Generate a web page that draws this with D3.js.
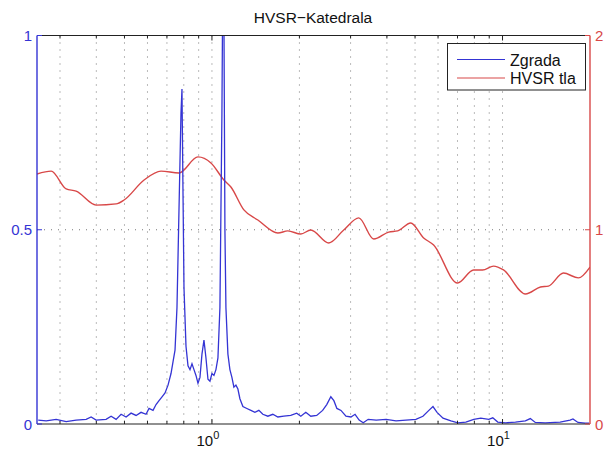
<!DOCTYPE html>
<html><head><meta charset="utf-8">
<script src="https://cdn.jsdelivr.net/npm/d3@7"></script>
<style>body{margin:0;background:#fff}svg{display:block}text{font-family:"Liberation Sans",Arial,sans-serif}</style>
</head><body><svg id="c" width="605" height="452"></svg>
<script>
const title = "HVSR\u2212Katedrala";
const seriesNames = ["Zgrada", "HVSR tla"];
const xDomain = [0.25, 20];
const leftTicks = [0, 0.5, 1];
const leftTickLabels = ["0", "0.5", "1"];
const rightTicks = [0, 1, 2];
const rightTickLabels = ["0", "1", "2"];
const xMajorTicks = [1, 10];
const xMajorExponents = ["0", "1"];

// Zgrada (left axis)
const zFreq = [0.2524,0.2689,0.2910,0.3150,0.3409,0.3690,0.3839,0.3994,0.4322,0.4497,0.4679,0.4868,0.5065,0.5268,0.5481,0.5702,0.5932,0.6074,0.6270,0.6421,0.6575,0.6733,0.6895,0.7061,0.7230,0.7345,0.7463,0.7580,0.7701,0.7824,0.7886,0.7949,0.8013,0.8141,0.8271,0.8404,0.8537,0.8673,0.8811,0.8952,0.9094,0.9240,0.9387,0.9537,0.9689,0.9843,1.0,1.0160,1.0321,1.0486,1.0653,1.0823,1.0909,1.0996,1.1083,1.1171,1.1349,1.1530,1.1714,1.1901,1.2091,1.2284,1.2480,1.2779,1.3186,1.3614,1.4054,1.4503,1.4966,1.5571,1.6199,1.6859,1.7671,1.8675,1.9573,2.0223,2.1036,2.1887,2.2938,2.4041,2.4834,2.5652,2.6278,2.6913,2.7800,2.8918,3.0085,3.1078,3.2104,3.3163,3.4498,3.6753,3.9758,4.3010,4.6527,5.0332,5.3218,5.5796,5.7626,5.9517,6.2396,6.6444,7.0224,7.4778,7.9627,8.4163,8.9626,9.2578,9.6290,10.2404,11.0778,11.9838,12.4641,12.9638,14.0244,15.7845,17.0755,17.4743,18.1833,19.2348,19.8545];
const zVal = [0.010,0.008,0.012,0.006,0.010,0.012,0.018,0.010,0.012,0.020,0.012,0.025,0.018,0.028,0.022,0.030,0.025,0.040,0.035,0.050,0.060,0.070,0.080,0.100,0.130,0.160,0.190,0.300,0.550,0.800,0.862,0.600,0.350,0.200,0.150,0.140,0.155,0.140,0.125,0.105,0.120,0.180,0.216,0.170,0.115,0.110,0.130,0.125,0.140,0.170,0.300,0.800,1.200,1.050,0.500,0.300,0.180,0.140,0.120,0.095,0.100,0.090,0.065,0.045,0.040,0.035,0.030,0.035,0.025,0.020,0.025,0.018,0.020,0.022,0.028,0.020,0.030,0.020,0.022,0.035,0.050,0.070,0.060,0.040,0.035,0.020,0.018,0.025,0.010,0.003,0.012,0.010,0.012,0.008,0.010,0.012,0.020,0.035,0.045,0.030,0.015,0.008,0.003,0.005,0.012,0.015,0.012,0.016,0.005,0.003,0.005,0.008,0.014,0.004,0.003,0.005,0.010,0.013,0.004,0.002,0.002];

// HVSR tla (right axis)
const hFreq = [0.25,0.2797,0.3150,0.3408,0.3994,0.4679,0.4984,0.5840,0.6679,0.7700,0.8951,0.9921,1.0996,1.1621,1.2882,1.4390,1.6859,1.8245,2.0223,2.1887,2.5241,2.8418,3.2007,3.6041,4.0576,4.3574,4.8296,5.3529,5.7937,7.0029,7.9488,8.5365,9.3133,10.08,11.995,13.508,14.390,16.202,18.245,20];
const hVal = [1.287,1.302,1.210,1.199,1.127,1.133,1.153,1.256,1.302,1.292,1.375,1.344,1.256,1.220,1.102,1.050,0.983,0.994,0.978,0.999,0.932,0.999,1.061,0.952,0.988,0.994,1.035,0.958,0.921,0.726,0.793,0.793,0.813,0.793,0.669,0.705,0.710,0.777,0.752,0.808];

const blue = "#3434d4", red = "#d84848";
const L = 37, R = 590, T = 35.5, B = 424;
const svg = d3.select("#c");
const x = d3.scaleLog().domain(xDomain).range([L, R]);
const yL = d3.scaleLinear().domain([0, 1]).range([B, T]);
const yR = d3.scaleLinear().domain([0, 2]).range([B, T]);

svg.append("defs").append("clipPath").attr("id","clip").append("rect")
  .attr("x", L).attr("y", T).attr("width", R - L).attr("height", B - T);

// grid
const minor = [];
for (let d = 0.1; d <= 10; d *= 10) for (let k = 1; k <= 9; k++) { const v = +(k*d).toPrecision(3); if (v > xDomain[0] && v < xDomain[1]) minor.push(v); }
const g = svg.append("g");
g.selectAll("line.v").data(minor).join("line")
  .attr("x1", d => x(d)).attr("x2", d => x(d)).attr("y1", T).attr("y2", B)
  .attr("stroke", "#777").attr("stroke-width", 1).attr("stroke-dasharray", "1,6");
g.append("line").attr("x1", L).attr("x2", R).attr("y1", yL(0.5)).attr("y2", yL(0.5))
  .attr("stroke", "#777").attr("stroke-width", 1).attr("stroke-dasharray", "1,6");

// lines
const lineZ = d3.line().x((d,i) => x(zFreq[i])).y(d => yL(d));
const lineH = d3.line().curve(d3.curveMonotoneX).x((d,i) => x(hFreq[i])).y(d => yR(d));
const pl = svg.append("g").attr("clip-path", "url(#clip)");
pl.append("path").datum(hVal).attr("d", lineH).attr("fill","none").attr("stroke", red).attr("stroke-width", 1.4);
pl.append("path").datum(zVal).attr("d", lineZ).attr("fill","none").attr("stroke", blue).attr("stroke-width", 1.3);

// frame top/bottom
svg.append("line").attr("x1", L).attr("x2", R).attr("y1", T).attr("y2", T).attr("stroke", "#222").attr("stroke-width", 1.2);
svg.append("line").attr("x1", L).attr("x2", R).attr("y1", B).attr("y2", B).attr("stroke", "#222").attr("stroke-width", 1.2);

// x ticks, top and bottom, inward
minor.forEach(v => {
  const len = xMajorTicks.includes(v) ? 5 : 3;
  svg.append("line").attr("x1", x(v)).attr("x2", x(v)).attr("y1", B).attr("y2", B - len).attr("stroke", "#222");
  svg.append("line").attr("x1", x(v)).attr("x2", x(v)).attr("y1", T).attr("y2", T + len).attr("stroke", "#222");
});
xMajorTicks.forEach((v, i) => {
  const t = svg.append("text").attr("x", x(v) - 4).attr("y", 446).attr("text-anchor", "middle").attr("font-size", 15).attr("fill", "#111");
  t.append("tspan").text("10");
  t.append("tspan").attr("dy", -7).attr("font-size", 11).text(xMajorExponents[i]);
});

// left axis
svg.append("line").attr("x1", L).attr("x2", L).attr("y1", T).attr("y2", B).attr("stroke", blue).attr("stroke-width", 1.4);
leftTicks.forEach((v, i) => {
  svg.append("line").attr("x1", L).attr("x2", L + 5).attr("y1", yL(v)).attr("y2", yL(v)).attr("stroke", blue);
  svg.append("text").attr("x", L - 5).attr("y", yL(v) + 5.5).attr("text-anchor", "end").attr("font-size", 15).attr("fill", blue).text(leftTickLabels[i]);
});
// right axis
svg.append("line").attr("x1", R).attr("x2", R).attr("y1", T).attr("y2", B).attr("stroke", red).attr("stroke-width", 1.4);
rightTicks.forEach((v, i) => {
  svg.append("line").attr("x1", R).attr("x2", R - 5).attr("y1", yR(v)).attr("y2", yR(v)).attr("stroke", red);
  svg.append("text").attr("x", R + 5).attr("y", yR(v) + 5.5).attr("text-anchor", "start").attr("font-size", 15).attr("fill", red).text(rightTickLabels[i]);
});

// title
svg.append("text").attr("x", 313).attr("y", 23).attr("text-anchor", "middle").attr("font-size", 15.5).attr("fill", "#111").text(title);

// legend
const lg = svg.append("g");
lg.append("rect").attr("x", 447.5).attr("y", 43.5).attr("width", 138).attr("height", 46.5).attr("fill", "#fff").attr("stroke", "#222").attr("stroke-width", 1);
[blue, red].forEach((c, i) => {
  const yy = 59.5 + i * 18.5;
  lg.append("line").attr("x1", 457).attr("x2", 505).attr("y1", yy).attr("y2", yy).attr("stroke", c).attr("stroke-width", 1.2);
  lg.append("text").attr("x", 510).attr("y", yy + 6).attr("font-size", 16).attr("fill", "#111").text(seriesNames[i]);
});
</script></body></html>
